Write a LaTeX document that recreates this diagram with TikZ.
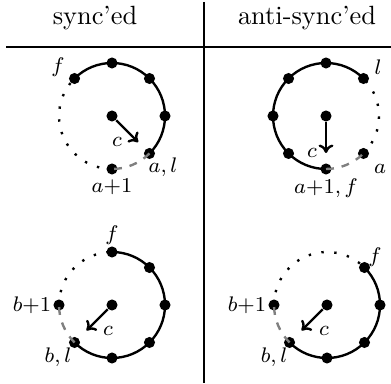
\documentclass[tikz,border=0pt]{standalone}
\usetikzlibrary{arrows.meta}

\begin{document}
\begin{tikzpicture}[
		x=0.379pt, y=0.379pt,
		dot/.style={
			circle,
			fill,
			inner sep=0pt,
			minimum size=4.2pt
		},
		lab/.style={font=\footnotesize, inner sep=0pt},
		ringarc/.style={line width=0.9pt},
		gaparc/.style={line width=0.9pt, gray, dashed},
		restarc/.style={line width=0.9pt, loosely dotted},
		ptr/.style={line width=0.9pt, -{To[length=3.2pt,width=5.6pt]}}
		]
		
		\useasboundingbox (0,0) rectangle (391,383);
		
		% table rules and heads
		\draw[line width=0.5pt] (6,336) -- (391,336);
		\draw[line width=0.5pt] (204,381) -- (204,0);
		\node[anchor=base] (headsync) at (95,358) {sync'ed};
		\node[anchor=base] (headanti) at (307,358) {anti-sync'ed};
		
		% sync'ed, a
		\begin{scope}[shift={(112,267)}]
			\node[dot] (sac) at (0,0) {};
			\node[dot] (saf) at (135:53) {};
			\foreach \ang in {90,45,0}
				\node[dot] (sa\ang) at (\ang:53) {};
			\node[dot] (sal) at (-45:53) {};
			\node[dot] (sanext) at (-90:53) {};
			\coordinate (satip) at (-45:37);
			
			\draw[ringarc] (saf.center) arc[start angle=135, end angle=-45, radius=53];
			\draw[gaparc] (sal.center) arc[start angle=-45, end angle=-90, radius=53];
			\draw[restarc] (sanext.center) arc[start angle=-90, end angle=-225, radius=53];
			\draw[ptr] (sac) -- (satip);
			
			\node[lab] (saflab) at (-54,49) {$f$};
			\node[lab] (sallab) at (51,-51) {$a,l$};
			\node[lab] (sanextlab) at (0,-71) {$a{+}1$};
			\node[lab] (saclab) at (5,-26) {$c$};
		\end{scope}
		
		% anti-sync'ed, a
		\begin{scope}[shift={(326,267)}]
			\node[dot] (aac) at (0,0) {};
			\node[dot] (aal) at (45:53) {};
			\foreach \ang in {90,135,180,225}
				\node[dot] (aa\ang) at (\ang:53) {};
			\node[dot] (aanext) at (270:53) {};
			\node[dot] (aaa) at (315:53) {};
			\coordinate (aatip) at (270:37);
			
			\draw[ringarc] (aal.center) arc[start angle=45, end angle=270, radius=53];
			\draw[gaparc] (aanext.center) arc[start angle=270, end angle=315, radius=53];
			\draw[restarc] (aaa.center) arc[start angle=315, end angle=405, radius=53];
			\draw[ptr] (aac) -- (aatip);
			
			\node[lab] (aallab) at (52,49) {$l$};
			\node[lab] (aaalab) at (54,-53) {$a$};
			\node[lab] (aanextlab) at (0,-72) {$a{+}1,f$};
			\node[lab] (aaclab) at (-14,-37) {$c$};
		\end{scope}
		
		% sync'ed, b
		\begin{scope}[shift={(112,78)}]
			\node[dot] (sbc) at (0,0) {};
			\node[dot] (sbf) at (90:53) {};
			\foreach \ang in {45,0,-45,-90}
				\node[dot] (sb\ang) at (\ang:53) {};
			\node[dot] (sbl) at (-135:53) {};
			\node[dot] (sbnext) at (180:53) {};
			\coordinate (sbtip) at (225:36);
			
			\draw[ringarc] (sbf.center) arc[start angle=90, end angle=-135, radius=53];
			\draw[gaparc] (sbl.center) arc[start angle=-135, end angle=-180, radius=53];
			\draw[restarc] (sbnext.center) arc[start angle=180, end angle=90, radius=53];
			\draw[ptr] (sbc) -- (sbtip);
			
			\node[lab] (sbflab) at (0,70) {$f$};
			\node[lab] (sbnextlab) at (-80,0) {$b{+}1$};
			\node[lab] (sbllab) at (-54,-52) {$b,l$};
			\node[lab] (sbclab) at (-4,-26) {$c$};
		\end{scope}
		
		% anti-sync'ed, b
		\begin{scope}[shift={(327,78)}]
			\node[dot] (abc) at (0,0) {};
			\node[dot] (abf) at (45:53) {};
			\foreach \ang in {0,-45,-90}
				\node[dot] (ab\ang) at (\ang:53) {};
			\node[dot] (abl) at (-135:53) {};
			\node[dot] (abnext) at (180:53) {};
			\coordinate (abtip) at (225:36);
			
			\draw[ringarc] (abf.center) arc[start angle=45, end angle=-135, radius=53];
			\draw[gaparc] (abl.center) arc[start angle=-135, end angle=-180, radius=53];
			\draw[restarc] (abnext.center) arc[start angle=180, end angle=45, radius=53];
			\draw[ptr] (abc) -- (abtip);
			
			\node[lab] (abflab) at (48,48) {$f$};
			\node[lab] (abnextlab) at (-80,0) {$b{+}1$};
			\node[lab] (abllab) at (-53,-52) {$b,l$};
			\node[lab] (abclab) at (-3,-26) {$c$};
		\end{scope}
		
	\end{tikzpicture}
\end{document}
